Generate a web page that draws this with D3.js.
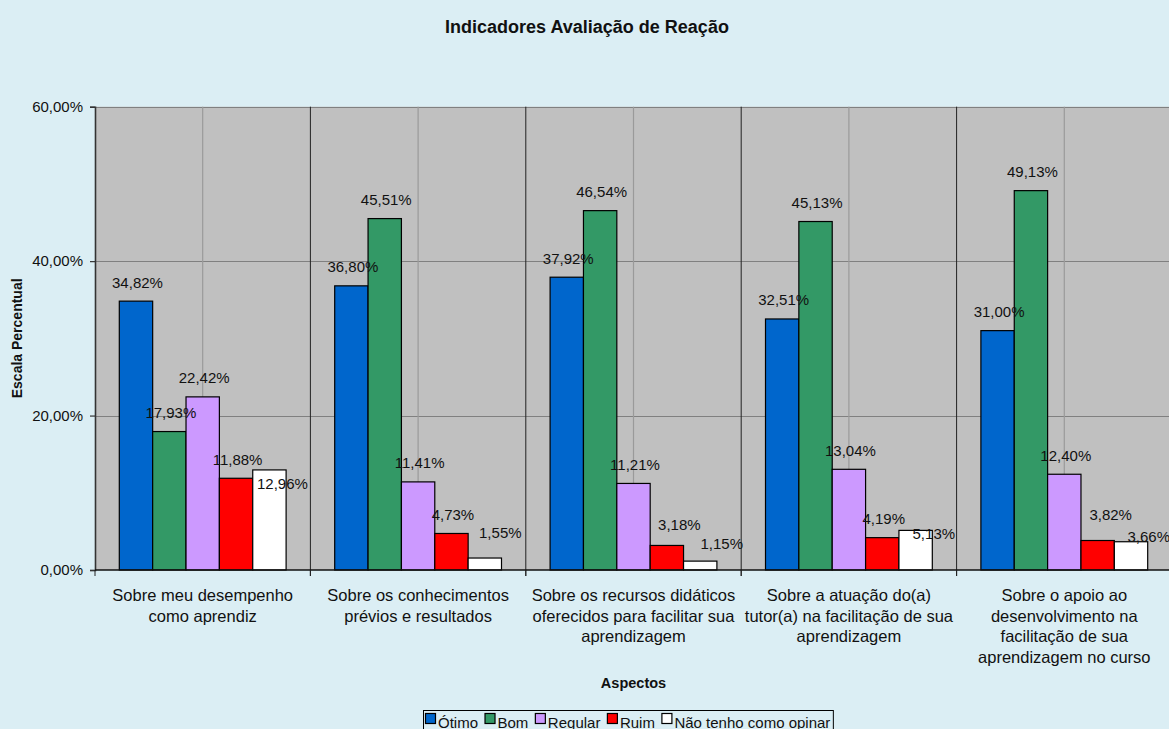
<!DOCTYPE html>
<html>
<head>
<meta charset="utf-8">
<script src="https://cdn.jsdelivr.net/npm/d3@7"></script>
<style>
  html, body { margin: 0; padding: 0; background: #DBEEF4; }
  svg { display: block; font-family: "Liberation Sans", Arial, sans-serif; }
</style>
</head>
<body>
<svg id="chart" width="1169" height="729"></svg>
<script>
// ---- data ----
const categories = [
  "Sobre meu desempenho\ncomo aprendiz",
  "Sobre os conhecimentos\nprévios e resultados",
  "Sobre os recursos didáticos\noferecidos para facilitar sua\naprendizagem",
  "Sobre a atuação do(a)\ntutor(a) na facilitação de sua\naprendizagem",
  "Sobre o apoio ao\ndesenvolvimento na\nfacilitação de sua\naprendizagem no curso"
];
const seriesNames = ["Ótimo", "Bom", "Regular", "Ruim", "Não tenho como opinar"];
const otimo     = [34.82, 36.80, 37.92, 32.51, 31.00];
const bom       = [17.93, 45.51, 46.54, 45.13, 49.13];
const regular   = [22.42, 11.41, 11.21, 13.04, 12.40];
const ruim      = [11.88, 4.73, 3.18, 4.19, 3.82];
const naoOpinar = [12.96, 1.55, 1.15, 5.13, 3.66];
const yTicks = [0, 20, 40, 60];
const titleText = "Indicadores Avaliação de Reação";
const yTitle = "Escala Percentual";
const xTitle = "Aspectos";

// ---- styling / layout (not data) ----
const seriesColors = ["#0066CC", "#339966", "#CC99FF", "#FF0000", "#FFFFFF"];
// manual label nudges [dx, dy] per series (rows) and category (cols), as in the original
const labelNudge = [
  [[0,0],[0,0],[0,0],[0,0],[0,0]],
  [[0,0],[0,0],[0,0],[0,0],[0,0]],
  [[0,0],[0,0],[0,0],[0,0],[0,0]],
  [[0,0],[0,0],[11,-2],[0,0],[11.5,-7]],
  [[11.5,33],[14,-7],[20,1],[16.7,22],[16.2,13.5]]
];

const seriesValues = [otimo, bom, regular, ruim, naoOpinar];

const W = 1169, H = 729;
const plot = { left: 95, top: 106.7, bottom: 570, width: 1077 };

const svg = d3.select("#chart");
svg.append("rect").attr("width", W).attr("height", H).attr("fill", "#DBEEF4");

const locale = d3.formatLocale({ decimal: ",", thousands: ".", grouping: [3], currency: ["R$", ""] });
const fmt = v => locale.format(".2f")(v) + "%";

const y = d3.scaleLinear().domain([0, 60]).range([plot.bottom, plot.top]);
const x0 = d3.scaleBand().domain(d3.range(categories.length))
  .range([plot.left, plot.left + plot.width]).paddingInner(0).paddingOuter(0);
const groupPad = 24.3;
const x1 = d3.scaleBand().domain(d3.range(seriesNames.length))
  .range([groupPad, x0.bandwidth() - groupPad]).paddingInner(0);

// plot background
svg.append("rect")
  .attr("x", plot.left).attr("y", plot.top)
  .attr("width", plot.width).attr("height", plot.bottom - plot.top)
  .attr("fill", "#C0C0C0");

// horizontal gridlines
svg.append("g").selectAll("line").data(yTicks.filter(d => d > 0)).join("line")
  .attr("x1", plot.left).attr("x2", plot.left + plot.width)
  .attr("y1", d => Math.round(y(d)) + 0.5).attr("y2", d => Math.round(y(d)) + 0.5)
  .attr("stroke", "#808080").attr("stroke-width", 1.2);

// vertical mid-category gridlines
svg.append("g").selectAll("line").data(d3.range(categories.length)).join("line")
  .attr("x1", d => x0(d) + x0.bandwidth() / 2).attr("x2", d => x0(d) + x0.bandwidth() / 2)
  .attr("y1", plot.top).attr("y2", plot.bottom)
  .attr("stroke", "#9A9A9A").attr("stroke-width", 1.2);

// category boundary lines
svg.append("g").selectAll("line").data(d3.range(1, categories.length)).join("line")
  .attr("x1", d => x0(d)).attr("x2", d => x0(d))
  .attr("y1", plot.top).attr("y2", plot.bottom + 6)
  .attr("stroke", "#222").attr("stroke-width", 1);

// bars
const flat = [];
seriesValues.forEach((vals, s) => vals.forEach((v, c) => flat.push({ s, c, v })));

svg.append("g").selectAll("rect").data(flat).join("rect")
  .attr("x", d => x0(d.c) + x1(d.s))
  .attr("y", d => y(d.v))
  .attr("width", x1.bandwidth())
  .attr("height", d => y(0) - y(d.v))
  .attr("fill", d => seriesColors[d.s])
  .attr("stroke", "#000").attr("stroke-width", 1.2);

// y axis
const yAxis = d3.axisLeft(y).tickValues(yTicks).tickSize(5).tickPadding(7)
  .tickFormat(d => fmt(d));
const gy = svg.append("g").attr("transform", `translate(${plot.left},0)`).call(yAxis);
gy.select(".domain").attr("stroke", "#333").attr("stroke-width", 1.6);
gy.selectAll(".tick line").attr("stroke", "#333").attr("stroke-width", 1.2);
gy.selectAll(".tick text").attr("font-size", "15px").attr("fill", "#111")
  .attr("font-family", "'Liberation Sans', Arial, sans-serif");

// x axis line
svg.append("line")
  .attr("x1", plot.left).attr("x2", plot.left + plot.width)
  .attr("y1", plot.bottom).attr("y2", plot.bottom)
  .attr("stroke", "#111").attr("stroke-width", 1.5);
// x ticks at boundaries
svg.append("g").selectAll("line").data(d3.range(0, categories.length)).join("line")
  .attr("x1", d => x0(d)).attr("x2", d => x0(d))
  .attr("y1", plot.bottom).attr("y2", plot.bottom + 6)
  .attr("stroke", "#222").attr("stroke-width", 1);

// category labels
const catG = svg.append("g").attr("font-size", "16.5px").attr("fill", "#111").attr("text-anchor", "middle");
categories.forEach((cat, i) => {
  const t = catG.append("text").attr("x", x0(i) + x0.bandwidth() / 2).attr("y", 601);
  cat.split("\n").forEach((line, k) => {
    t.append("tspan").attr("x", x0(i) + x0.bandwidth() / 2).attr("dy", k === 0 ? 0 : 20.6).text(line);
  });
});

// data labels
svg.append("g").attr("font-size", "15px").attr("fill", "#111").attr("text-anchor", "middle")
  .selectAll("text").data(flat).join("text")
  .attr("x", d => x0(d.c) + x1(d.s) + x1.bandwidth() / 2 + 1.5 + labelNudge[d.s][d.c][0])
  .attr("y", d => y(d.v) - 13.5 + labelNudge[d.s][d.c][1])
  .text(d => fmt(d.v));

// title
svg.append("text").attr("x", 587).attr("y", 33).attr("text-anchor", "middle")
  .attr("font-size", "18px").attr("font-weight", "bold").attr("fill", "#111").text(titleText);

// y axis title
svg.append("text").attr("transform", `translate(22,${(plot.top + plot.bottom) / 2}) rotate(-90)`)
  .attr("text-anchor", "middle").attr("font-size", "14px").attr("font-weight", "bold")
  .attr("fill", "#111").text(yTitle);

// x axis title
svg.append("text").attr("x", plot.left + plot.width / 2).attr("y", 688).attr("text-anchor", "middle")
  .attr("font-size", "14.5px").attr("font-weight", "bold").attr("fill", "#111").text(xTitle);

// legend
const legX = 423, legY = 710;
const leg = svg.append("g");
const legBox = leg.append("rect").attr("x", legX + 0.5).attr("y", legY + 0.5)
  .attr("height", 30).attr("fill", "#DBEEF4").attr("stroke", "#000").attr("stroke-width", 1);
let cx = legX + 2;
seriesNames.forEach((name, i) => {
  leg.append("rect").attr("x", cx + 0.5).attr("y", 713.5).attr("width", 10).attr("height", 10)
    .attr("fill", seriesColors[i]).attr("stroke", "#000").attr("stroke-width", 1.2);
  const t = leg.append("text").attr("x", cx + 13).attr("y", 727.5).attr("font-size", "15px")
    .attr("fill", "#111").text(name);
  cx += 13 + t.node().getComputedTextLength() + 6.5;
});
legBox.attr("width", cx - legX - 4);
</script>
</body>
</html>
